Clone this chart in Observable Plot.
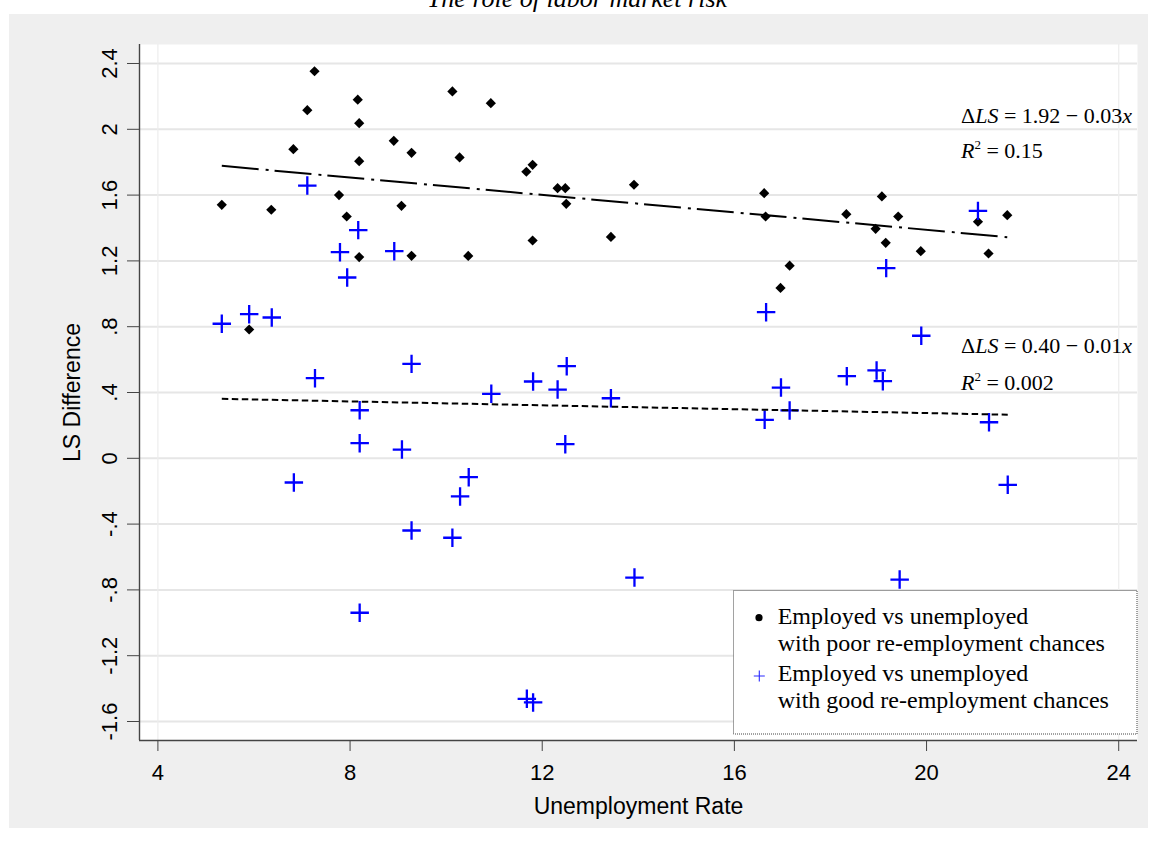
<!DOCTYPE html>
<html><head><meta charset="utf-8">
<script src="https://cdn.jsdelivr.net/npm/d3@7"></script>
<script src="https://cdn.jsdelivr.net/npm/@observablehq/plot@0.6"></script>
<style>
html,body{margin:0;padding:0;background:#fff;}
#wrap{position:relative;width:1154px;height:855px;overflow:hidden;}
#bg{position:absolute;left:9px;top:14px;width:1139px;height:814px;background:#efefef;}
#chart{position:absolute;left:0;top:0;}
#overlay{position:absolute;left:0;top:0;pointer-events:none;}
</style></head>
<body>
<div id="wrap"><div id="bg"></div><div id="chart"></div><svg id="overlay" width="1154" height="855"></svg></div>
<script>
// ---- data ----
const poorX = [5.33,5.90,6.36,6.82,7.11,7.26,7.77,7.93,8.16,8.19,8.19,8.19,8.91,9.07,9.28,9.28,10.13,10.28,10.46,10.93,11.67,11.80,11.80,12.32,12.48,12.50,13.43,13.91,16.62,16.65,16.96,17.15,18.33,18.94,19.07,19.15,19.41,19.88,21.07,21.29,21.68];
const poorY = [1.541,0.783,1.511,1.879,2.116,2.353,1.600,1.470,2.180,2.037,1.806,1.223,1.930,1.535,1.857,1.231,2.230,1.829,1.230,2.159,1.742,1.784,1.324,1.642,1.642,1.547,1.346,1.663,1.612,1.470,1.036,1.171,1.484,1.395,1.592,1.310,1.470,1.259,1.438,1.245,1.478];
const goodX = [5.33,5.90,6.37,6.83,7.11,7.27,7.79,7.94,8.17,8.20,8.20,8.20,8.92,9.08,9.28,9.28,10.13,10.29,10.47,10.94,11.68,11.81,11.81,12.32,12.48,12.51,13.43,13.92,16.63,16.66,16.97,17.15,18.34,18.96,19.09,19.16,19.44,19.89,21.07,21.30,21.69];
const goodY = [0.818,0.876,0.856,-0.147,1.658,0.487,1.253,1.099,1.387,0.292,0.092,-0.939,1.259,0.053,0.574,-0.439,-0.483,-0.232,-0.115,0.392,-1.462,0.467,-1.484,0.418,0.086,0.560,0.365,-0.725,0.234,0.888,0.430,0.291,0.499,0.534,0.469,1.156,-0.737,0.745,1.504,0.219,-0.161];
const poorFit = {intercept: 1.919, slope: -0.0265};
const goodFit = {intercept: 0.393, slope: -0.0059};
const xTicks = [4,8,12,16,20,24];
const yTicks = [2.4,2,1.6,1.2,0.8,0.4,0,-0.4,-0.8,-1.2,-1.6];
const yTickLabels = ["2.4","2","1.6","1.2",".8",".4","0","-.4","-.8","-1.2","-1.6"];
const xTitle = "Unemployment Rate";
const yTitle = "LS Difference";
const chartTitle = "The role of labor market risk";
const eqPoor = {a: "1.92", b: "0.03", r2: "0.15"};
const eqGood = {a: "0.40", b: "0.01", r2: "0.002"};
const legendLines = [["Employed vs unemployed","with poor re-employment chances"],["Employed vs unemployed","with good re-employment chances"]];

// ---- build ----
const poor = poorX.map((x,i)=>({x, y: poorY[i]}));
const good = goodX.map((x,i)=>({x, y: goodY[i]}));
const fitLine = (xs, f) => d3.extent(xs).map(x => ({x, y: f.intercept + f.slope*x}));
const xDomain = [3.617, 24.391];
const yDomain = [-1.7155, 2.5155];
const axisColor = "#444";

const chart = Plot.plot({
  width: 1154, height: 855,
  marginLeft: 139, marginRight: 17, marginTop: 44, marginBottom: 115,
  x: {domain: xDomain},
  y: {domain: yDomain},
  style: {background: "none", fontFamily: "'Liberation Sans', Arial, sans-serif", fontSize: "22px", color: "black"},
  marks: [
    Plot.frame({fill: "white", stroke: "none"}),
    Plot.ruleY(yTicks, {stroke: "#e6e6e6", strokeWidth: 2}),
    Plot.ruleX([xTicks[0], xTicks[xTicks.length-1]], {stroke: "#ededed", strokeWidth: 1.2}),
    Plot.dot(poor, {x: "x", y: "y", symbol: "diamond2", fill: "black", stroke: "none", r: 4.6}),
    Plot.dot(good, {x: "x", y: "y", symbol: "plus", stroke: "#0000ff", strokeWidth: 2.3, r: 6}),
    Plot.line(fitLine(poorX, poorFit), {x: "x", y: "y", stroke: "black", strokeWidth: 2, strokeLinecap: "butt", strokeDasharray: "37,7,3,6"}),
    Plot.line(fitLine(goodX, goodFit), {x: "x", y: "y", stroke: "black", strokeWidth: 2, strokeLinecap: "butt", strokeDasharray: "6.5,3.5"}),
    Plot.ruleX([xDomain[0]], {stroke: axisColor, strokeWidth: 1.4}),
    Plot.ruleY([yDomain[0]], {stroke: axisColor, strokeWidth: 1.4}),
    Plot.axisX({ticks: xTicks, tickSize: 11, tickPadding: 13, fontSize: 22, stroke: axisColor, fill: "black", label: null}),
    Plot.axisY({ticks: yTicks, tickSize: 12, tickFormat: () => "", stroke: axisColor, label: null}),
    Plot.text(yTicks, {y: d => d, text: (d, i) => yTickLabels[i], frameAnchor: "left", dx: -22.3, rotate: -90, textAnchor: "middle", lineAnchor: "bottom", fontSize: 22, fill: "black"}),
    Plot.text([xTitle], {text: d => d, frameAnchor: "bottom", dy: 73.3, lineAnchor: "bottom", fontSize: 23, fill: "black"}),
    Plot.text([yTitle], {text: d => d, frameAnchor: "left", dx: -59.7, rotate: -90, textAnchor: "middle", lineAnchor: "bottom", fontSize: 23, fill: "black"})
  ]
});
document.getElementById("chart").appendChild(chart);

// ---- overlay: title, equations, legend ----
const ov = d3.select("#overlay");
const serif = "'Liberation Serif', 'Times New Roman', serif";
ov.append("text").attr("x", 577).attr("y", 7).attr("text-anchor", "middle")
  .attr("font-family", serif).attr("font-style", "italic").attr("font-size", 26).text(chartTitle);

function equation(x, y1, y2, eq) {
  const t = ov.append("text").attr("x", x).attr("y", y1).attr("font-family", serif).attr("font-size", 22);
  t.append("tspan").text("\u0394");
  t.append("tspan").attr("font-style", "italic").text("LS");
  t.append("tspan").text(" = " + eq.a + " \u2212 " + eq.b);
  t.append("tspan").attr("font-style", "italic").text("x");
  const r = ov.append("text").attr("x", x).attr("y", y2).attr("font-family", serif).attr("font-size", 22);
  r.append("tspan").attr("font-style", "italic").text("R");
  r.append("tspan").attr("font-size", 13).attr("dy", -9).text("2");
  r.append("tspan").attr("dy", 9).text(" = " + eq.r2);
}
equation(961, 122.7, 158.3, eqPoor);
equation(961, 353.3, 390, eqGood);

const lg = ov.append("g");
lg.append("rect").attr("x", 733.5).attr("y", 590.5).attr("width", 403.5).attr("height", 143.5)
  .attr("fill", "white").attr("stroke", "#444").attr("stroke-width", 1).attr("stroke-dasharray", "1,1");
lg.append("circle").attr("cx", 759).attr("cy", 617.7).attr("r", 3.6).attr("fill", "black");
lg.append("path").attr("d", "M753.8,676H764.8M759.3,670.5V681.5").attr("stroke", "#2a2aff").attr("stroke-width", 1.1).attr("fill", "none");
const baselines = [[624.3, 651], [681, 708.3]];
legendLines.forEach((lines, k) => lines.forEach((s, j) => {
  lg.append("text").attr("x", 777.7).attr("y", baselines[k][j]).attr("font-family", serif).attr("font-size", 24).text(s);
}));
</script>
</body></html>
